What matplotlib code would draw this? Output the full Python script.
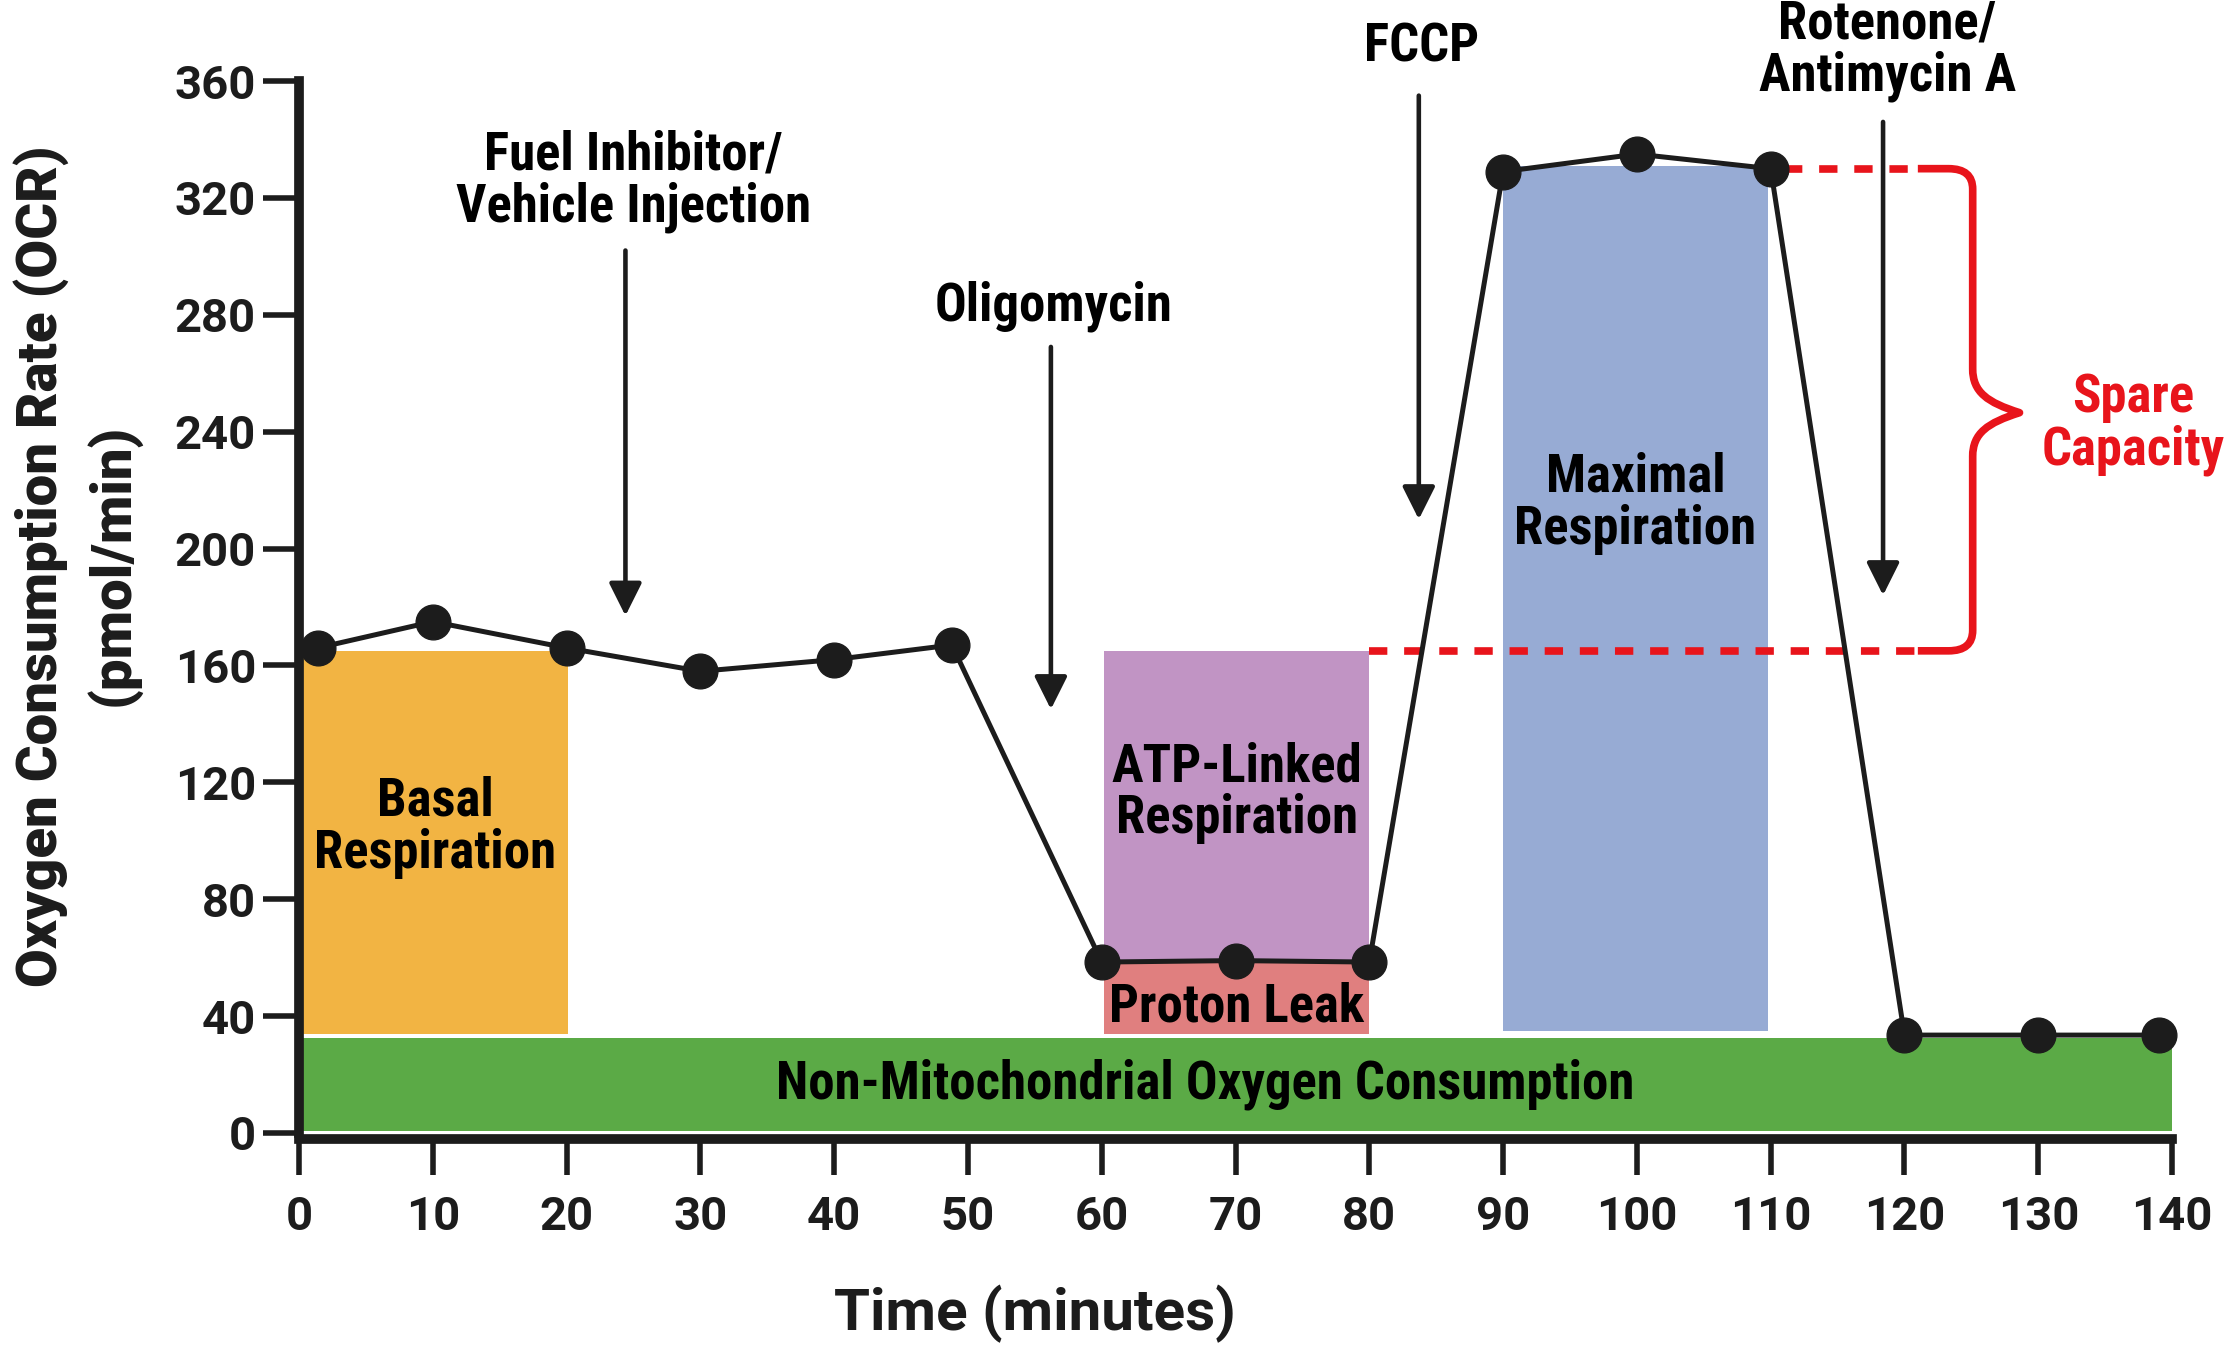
import matplotlib
matplotlib.use("Agg")
import matplotlib.pyplot as plt
from matplotlib import font_manager
from matplotlib.patches import Rectangle, PathPatch
from matplotlib.path import Path

# ---------------- data ----------------
time_min = [1.4, 10, 20, 30, 40, 48.8, 60, 70, 80, 90, 100, 110, 120, 130, 139]
ocr = [166, 175, 166, 158, 162, 167, 58.5, 59, 58.5, 329, 335, 330, 33.5, 33.5, 33.5]

x_ticks = [0, 10, 20, 30, 40, 50, 60, 70, 80, 90, 100, 110, 120, 130, 140]
y_ticks = [0, 40, 80, 120, 160, 200, 240, 280, 320, 360]

# regions
regions_label = ["Basal\nRespiration", "ATP-Linked\nRespiration", "Proton Leak",
                 "Maximal\nRespiration", "Non-Mitochondrial Oxygen Consumption"]
regions_x0 = [0.3, 60.2, 60.2, 90, 0.3]
regions_x1 = [20.1, 80, 80, 109.8, 140]
regions_y0 = [34, 58.5, 34, 35, 0.6]
regions_y1 = [165, 165, 58.5, 331, 32.6]
regions_color = ["#F2B443", "#C194C4", "#E07F7F", "#97ABD4", "#5BAA46"]
regions_text_x = [10.2, 70.1, 70.1, 99.9, 67.7]
regions_text_y = [104.7, 116.4, 43.1, 215.6, 16.8]

# injections
inj_label = ["Fuel Inhibitor/\nVehicle Injection", "Oligomycin", "FCCP", "Rotenone/\nAntimycin A"]
inj_x = [24.4, 56.2, 83.7, 118.4]
inj_y_start = [302, 269, 355, 346]
inj_y_tip = [177, 145, 210, 184]
inj_text_x = [25.0, 56.4, 83.9, 118.7]
inj_text_y = [325.8, 283, 371.7, 370.6]

basal_level = 165
max_level = 330

# ---------------- fonts ----------------
names = {f.name for f in font_manager.fontManager.ttflist}
cond = "Roboto Condensed" if "Roboto Condensed" in names else (
    "Liberation Sans Narrow" if "Liberation Sans Narrow" in names else "Roboto")
wide = "Roboto" if "Roboto" in names else "DejaVu Sans"
plt.rcParams["font.family"] = [cond, "DejaVu Sans"]

INK = "#1c1c1c"
RED = "#E8141B"
ANN_FS = 38
LS = 1.03

fig = plt.figure(figsize=(22.33, 13.48), dpi=100)
ax = fig.add_axes([0.1339, 0.1595, 0.8388, 0.7804])
ax.set_xlim(0, 140)
ax.set_ylim(0, 360)

# regions
for x0, x1, y0, y1, c in zip(regions_x0, regions_x1, regions_y0, regions_y1, regions_color):
    ax.add_patch(Rectangle((x0, y0), x1 - x0, y1 - y0, facecolor=c,
                           edgecolor="none", zorder=1))
for lab, tx, ty in zip(regions_label, regions_text_x, regions_text_y):
    ax.text(tx, ty, lab, ha="center", va="center", fontsize=ANN_FS,
            fontweight="bold", color="black", zorder=5, linespacing=LS)

# spare capacity dashed lines
ax.plot([80, 121], [basal_level, basal_level], color=RED, lw=5.5,
        dashes=(2.4, 2.2), zorder=2, dash_capstyle="butt")
ax.plot([111, 121], [max_level, max_level], color=RED, lw=5.5,
        dashes=(2.4, 2.2), zorder=2, dash_capstyle="butt")

# brace
bx0, bxv, bxt = 121.0, 125.1, 128.6
mid = (basal_level + max_level) / 2 - 1
verts = [(bx0, max_level), (bxv - 1.8, max_level),
         (bxv, max_level), (bxv, max_level - 7),
         (bxv, mid + 15),
         (bxv, mid + 7), (bxv + 1.1, mid + 3.5), (bxt, mid),
         (bxv + 1.1, mid - 3.5), (bxv, mid - 7), (bxv, mid - 15),
         (bxv, basal_level + 7),
         (bxv, basal_level), (bxv - 1.8, basal_level),
         (bx0, basal_level)]
codes = [Path.MOVETO, Path.LINETO,
         Path.CURVE3, Path.CURVE3,
         Path.LINETO,
         Path.CURVE4, Path.CURVE4, Path.CURVE4,
         Path.CURVE4, Path.CURVE4, Path.CURVE4,
         Path.LINETO,
         Path.CURVE3, Path.CURVE3,
         Path.LINETO]
ax.add_patch(PathPatch(Path(verts, codes), facecolor="none", edgecolor=RED,
                       lw=5.5, zorder=3, clip_on=False, joinstyle="round"))
ax.text(137.1, 242.6, "Spare\nCapacity", color=RED, ha="center", va="center",
        fontsize=ANN_FS, fontweight="bold", linespacing=LS, clip_on=False)

# injection arrows
for lab, x, ys, yt, tx, ty in zip(inj_label, inj_x, inj_y_start, inj_y_tip,
                                  inj_text_x, inj_text_y):
    ax.annotate("", xy=(x, yt), xytext=(x, ys),
                arrowprops=dict(arrowstyle="-|>,head_length=1.0,head_width=0.5",
                                mutation_scale=20, color=INK, lw=3.3,
                                shrinkA=0, shrinkB=0),
                zorder=4)
    ax.text(tx, ty, lab, ha="center", va="center", fontsize=ANN_FS,
            fontweight="bold", color="black", linespacing=LS, clip_on=False)

# data line
ax.plot(time_min, ocr, color=INK, lw=3.6, marker="o", markersize=25,
        markerfacecolor=INK, markeredgecolor=INK, zorder=6, clip_on=False)

# axes styling
for s in ["top", "right"]:
    ax.spines[s].set_visible(False)
for s in ["left", "bottom"]:
    ax.spines[s].set_linewidth(7)
    ax.spines[s].set_color(INK)
ax.spines["bottom"].set_position(("outward", 4.3))
ax.set_xticks(x_ticks)
ax.set_yticks(y_ticks)
ax.tick_params(axis="both", direction="out", length=26, width=4, color=INK,
               labelsize=34, labelcolor=INK)
ax.tick_params(axis="x", pad=14)
ax.tick_params(axis="y", pad=5)
for lbl in ax.get_xticklabels() + ax.get_yticklabels():
    lbl.set_fontweight("bold")
    lbl.set_family([wide, "DejaVu Sans"])

# axis titles
fig.text(0.4635, 1 - 1330 / 1348, "Time (minutes)", ha="center", va="baseline",
         fontsize=42, fontweight="bold", family=[wide, "DejaVu Sans"], color=INK)
fig.text(57 / 2233, 0.580, "Oxygen Consumption Rate (OCR)", rotation=90,
         rotation_mode="anchor", ha="center", va="baseline", fontsize=40.5,
         fontweight="heavy", family=[wide, "DejaVu Sans"], color=INK)
fig.text(128 / 2233, 0.581, "(pmol/min)", rotation=90,
         rotation_mode="anchor", ha="center", va="baseline", fontsize=40.5,
         fontweight="heavy", family=[wide, "DejaVu Sans"], color=INK)

fig.savefig("out.png", dpi=100, facecolor="white")
